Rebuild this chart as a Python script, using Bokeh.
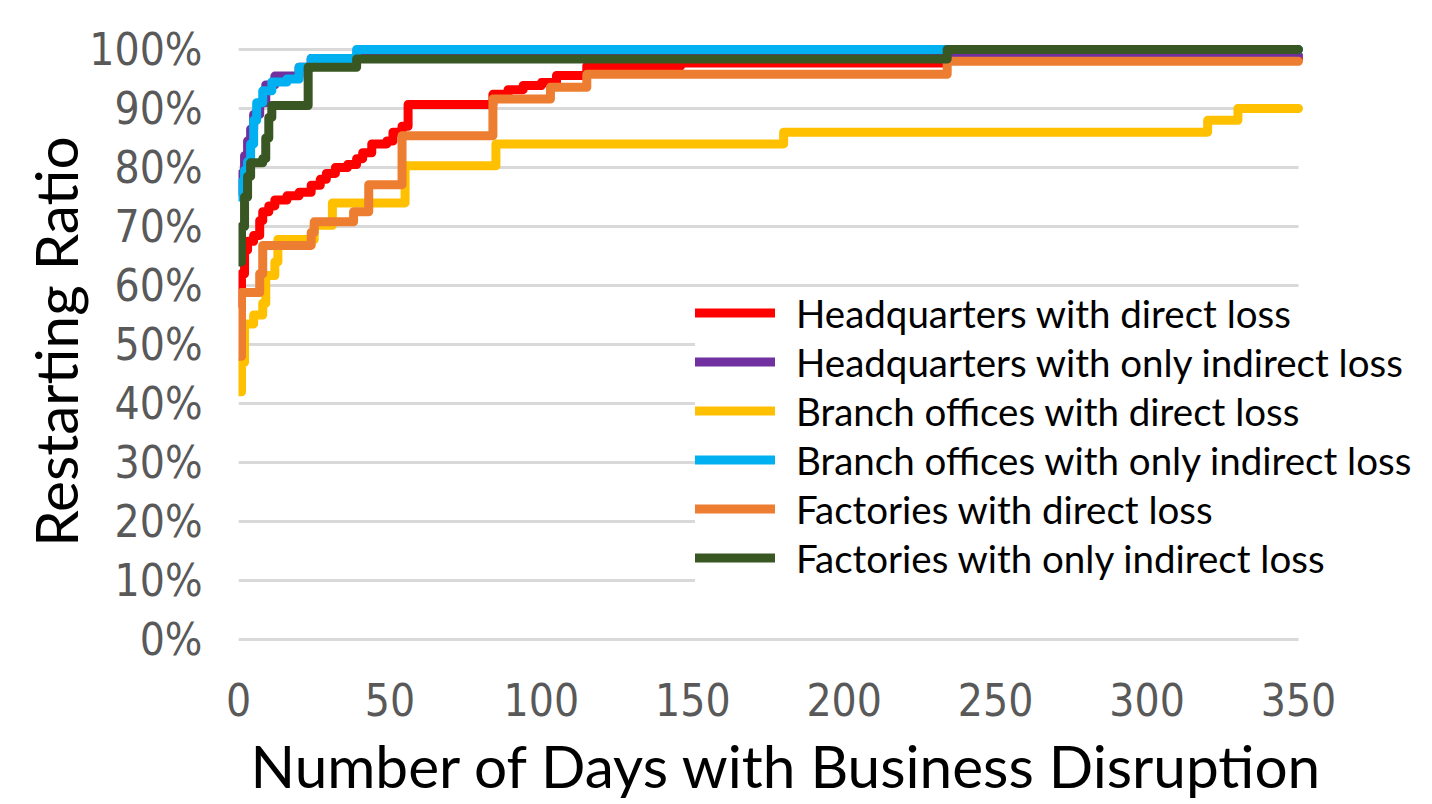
from bokeh.plotting import figure
from bokeh.models import Range1d, FixedTicker, PrintfTickFormatter, Legend, LegendItem, Title
from bokeh.embed import file_html
from bokeh.resources import INLINE

# ---- data (day at which the ratio changes, ratio in %) ----
hq_direct_days = [0, 1, 2, 3, 5, 7, 8, 10, 12, 16, 20, 24, 27, 29, 32, 36, 39, 41, 44, 49, 51, 54, 56, 84, 89, 94, 100, 105, 115, 146, 234, 350]
hq_direct_vals = [57, 62, 66, 67.5, 68.5, 71, 72.5, 73.5, 74.5, 75.2, 75.8, 77, 78, 79, 80, 80.5, 81.5, 82.5, 84, 84.5, 86, 87, 90.7, 92.4, 93.2, 93.9, 94.4, 95.6, 97.2, 97.7, 98.5, 98.5]

hq_indirect_days = [0, 1, 2, 3, 4, 5, 7, 9, 12, 20, 24, 39, 350]
hq_indirect_vals = [76, 79, 82, 84.5, 86.5, 89, 91, 94, 95.5, 97, 98.5, 99, 99]

br_direct_days = [0, 1, 2, 5, 8, 9, 12, 13, 25, 31, 55, 85, 180, 320, 330, 350]
br_direct_vals = [42, 47, 53.5, 55, 57, 61.7, 64, 67.8, 70.2, 74, 80.3, 84, 86, 88, 90, 90]

br_indirect_days = [0, 1, 2, 3, 4, 5, 6, 8, 11, 16, 20, 24, 39, 350]
br_indirect_vals = [75, 77.5, 79.5, 81, 84, 88, 91, 93, 94.5, 95, 97, 98.5, 100, 100]

fa_direct_days = [0, 1, 7, 8, 24, 25, 38, 43, 54, 84, 103, 115, 234, 350]
fa_direct_vals = [48, 58.8, 62, 66.8, 69, 70.8, 72.5, 77.1, 85.4, 91.6, 93.6, 95.8, 98, 98]

fa_indirect_days = [0, 1, 2, 3, 4, 8, 9, 10, 11, 23, 39, 234, 350]
fa_indirect_vals = [64, 70, 75, 78.5, 80.8, 81.5, 85, 88.5, 90.5, 97, 98.4, 100, 100]

series = [
    ("Headquarters with direct loss", hq_direct_days, hq_direct_vals, "#FF0000"),
    ("Headquarters with only indirect loss", hq_indirect_days, hq_indirect_vals, "#7030A0"),
    ("Branch offices with direct loss", br_direct_days, br_direct_vals, "#FFC000"),
    ("Branch offices with only indirect loss", br_indirect_days, br_indirect_vals, "#00B0F0"),
    ("Factories with direct loss", fa_direct_days, fa_direct_vals, "#ED7D31"),
    ("Factories with only indirect loss", fa_indirect_days, fa_indirect_vals, "#385723"),
]

x_ticks = [0, 50, 100, 150, 200, 250, 300, 350]
y_ticks = [0, 10, 20, 30, 40, 50, 60, 70, 80, 90, 100]
x_max = 350
x_title = "Number of Days with Business Disruption"
y_title = "Restarting Ratio"

PX_PER_DAY = 1060 / 350
FRAME_W = 1178

p = figure(frame_width=FRAME_W, frame_height=602,
           x_range=Range1d(0, FRAME_W / PX_PER_DAY), y_range=Range1d(-0.5, 101.53),
           output_backend="svg", toolbar_location=None,
           min_border_left=238, min_border_right=0,
           min_border_top=40, min_border_bottom=10)
p.outline_line_color = None
p.background_fill_color = "white"
p.border_fill_color = "white"
p.xgrid.grid_line_color = None
p.ygrid.grid_line_color = None

# horizontal gridlines, only across the 0..350 day span
p.segment(x0=[0] * len(y_ticks), y0=y_ticks, x1=[x_max] * len(y_ticks), y1=y_ticks,
          line_color="#D9D9D9", line_width=3)

items = []
for name, d, v, c in series:
    r = p.step(d, v, mode="after", line_color=c, line_width=9,
               line_cap="round", line_join="round")
    items.append(LegendItem(label=name, renderers=[r]))

p.xaxis.ticker = FixedTicker(ticks=x_ticks)
p.yaxis.ticker = FixedTicker(ticks=y_ticks)
p.yaxis.formatter = PrintfTickFormatter(format="%d%%")

TICK_FONT = "'DejaVu Sans Condensed', 'Roboto Condensed', 'Liberation Sans Narrow', Roboto"
for ax in (p.xaxis[0], p.yaxis[0]):
    ax.axis_line_color = None
    ax.major_tick_line_color = None
    ax.minor_tick_line_color = None
    ax.major_label_text_font = TICK_FONT
    ax.major_label_text_font_size = "44px"
    ax.major_label_text_color = "#595959"
    ax.axis_label_text_font_style = "normal"
    ax.axis_label_text_color = "black"

p.yaxis.major_label_standoff = 30
p.xaxis.major_label_standoff = 34

p.yaxis.axis_label = y_title
p.yaxis.axis_label_text_font = "Lato"
p.yaxis.axis_label_text_font_size = "58.5px"
p.yaxis.axis_label_standoff = -4

xt = Title(text=x_title, align="left", offset=12, text_font="Lato",
           text_font_size="58.5px", text_font_style="normal", text_color="black",
           standoff=19)
p.add_layout(xt, "below")

legend = Legend(items=items, location=(457, 60),
                label_text_font="Lato", label_text_font_size="38.5px",
                label_text_color="black",
                glyph_width=80, glyph_height=49, label_height=49,
                spacing=0, padding=0, margin=0, label_standoff=21,
                border_line_color=None, background_fill_color="white",
                background_fill_alpha=1.0)
p.add_layout(legend)

open("out.html", "w").write(file_html(p, INLINE))
